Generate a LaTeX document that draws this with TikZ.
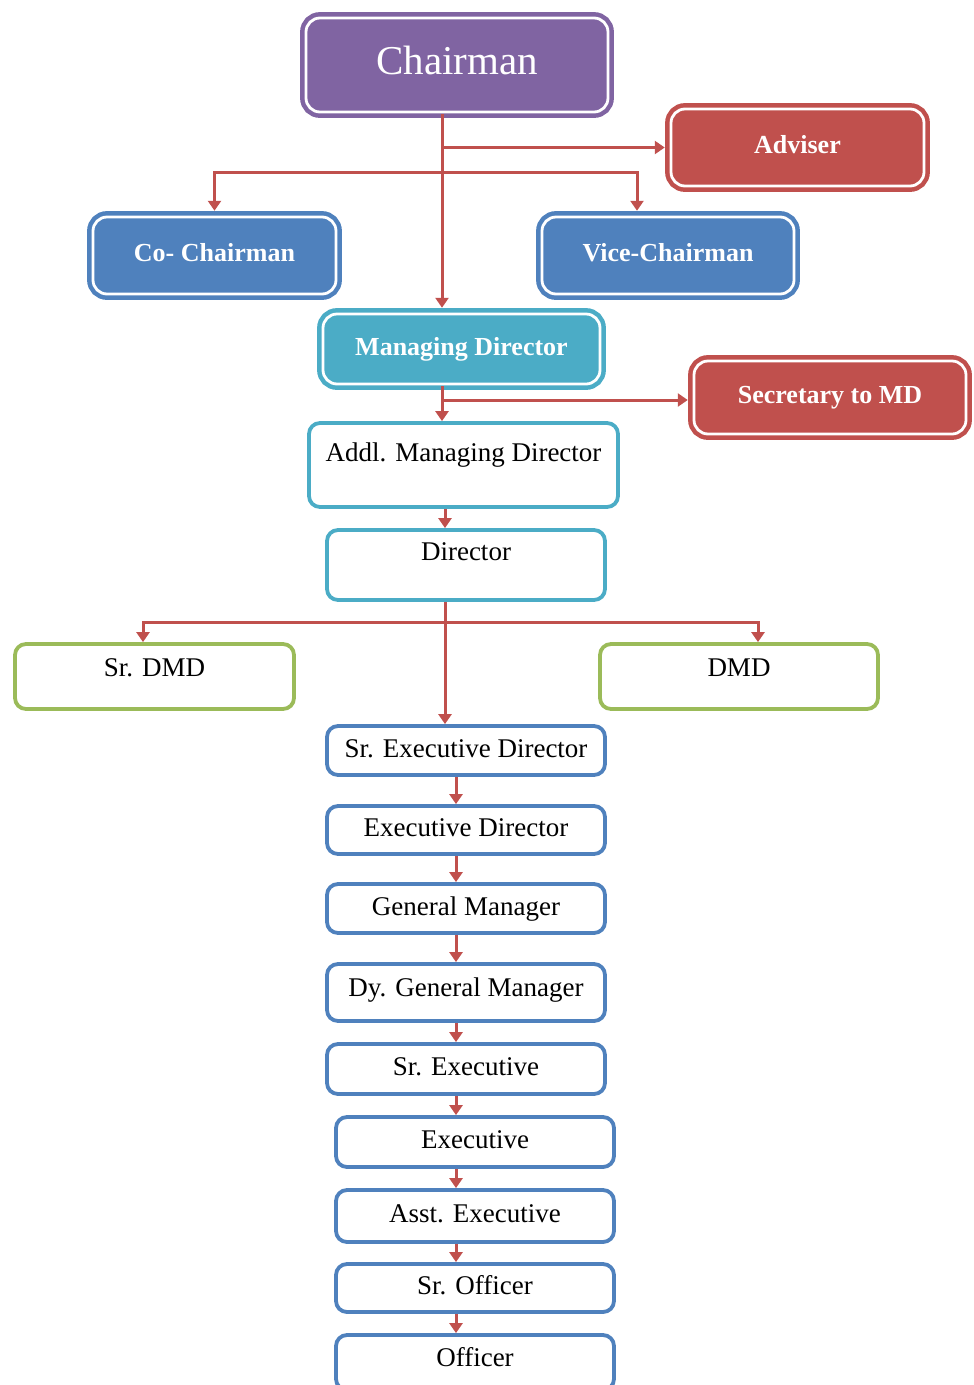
\documentclass[tikz,border=0pt]{standalone}
\usepackage{fontspec}
\setmainfont{Liberation Serif}
\usetikzlibrary{arrows.meta}

\definecolor{cpurple}{HTML}{8064A2}
\definecolor{cred}{HTML}{C0504D}
\definecolor{cblue}{HTML}{4F81BD}
\definecolor{cteal}{HTML}{4BACC6}
\definecolor{cgreen}{HTML}{9BBB59}

\tikzset{
  % filled box with a white inner rim
  solidbox/.style={rectangle, rounded corners=14pt, fill=#1, draw=#1,
    line width=4.5pt, double=white, double distance=2.8pt,
    text=white, font=\fontsize{26}{30}\selectfont\bfseries,
    inner sep=0pt, text height=18pt, text depth=6pt},
  % white box with a coloured outline
  plainbox/.style={rectangle, rounded corners=11pt, fill=white, draw=#1,
    line width=3.8pt, text=black, font=\fontsize{27}{31}\selectfont,
    inner sep=0pt, text height=19pt, text depth=6pt},
  conn/.style={draw=cred, line width=3pt,
    -{Triangle[width=13pt,length=10pt]}},
  toframe/.style={shorten >=4pt},
}

\begin{document}
\begin{tikzpicture}[x=1pt,y=-1pt]
\useasboundingbox (0,0) rectangle (974,1385);
\clip (0,0) rectangle (974,1385);

% top level
\node[solidbox=cpurple, minimum width=302pt, minimum height=94pt,
      font=\fontsize{41}{47}\selectfont, text height=28pt, text depth=9pt]
      (chair) at (457,65) {Chairman};
\node[solidbox=cred, minimum width=253pt, minimum height=77pt]
      (adviser) at (797.5,147.5) {Adviser};
\node[solidbox=cblue, minimum width=243pt, minimum height=77pt]
      (cochair) at (214.5,255.5) {Co- Chairman};
\node[solidbox=cblue, minimum width=252pt, minimum height=77pt]
      (vice) at (668,255.5) {Vice-Chairman};
\node[solidbox=cteal, minimum width=277pt, minimum height=70pt]
      (md) at (461.5,349) {Managing Director};
\node[solidbox=cred, minimum width=272pt, minimum height=73pt]
      (sec) at (830,397.5) {Secretary to MD};

% directors
\node[plainbox=cteal, minimum width=309pt, minimum height=84pt, text depth=26pt]
      (amd) at (463.5,465) {Addl. Managing Director};
\node[plainbox=cteal, minimum width=278pt, minimum height=70pt, text depth=28pt]
      (dir) at (466,565) {Director};
\node[plainbox=cgreen, minimum width=279pt, minimum height=65pt, text depth=19pt]
      (srdmd) at (154.5,676.5) {Sr. DMD};
\node[plainbox=cgreen, minimum width=278pt, minimum height=65pt, text depth=19pt]
      (dmd) at (739,676.5) {DMD};

% management chain
\node[plainbox=cblue, minimum width=278pt, minimum height=49pt]
      (sed) at (466,750.5) {Sr. Executive Director};
\node[plainbox=cblue, minimum width=278pt, minimum height=48pt]
      (ed) at (466,830) {Executive Director};
\node[plainbox=cblue, minimum width=278pt, minimum height=49pt]
      (gm) at (466,908.5) {General Manager};
\node[plainbox=cblue, minimum width=278pt, minimum height=57pt, text depth=12pt]
      (dgm) at (466,992.5) {Dy. General Manager};
\node[plainbox=cblue, minimum width=278pt, minimum height=50pt]
      (sx) at (466,1069) {Sr. Executive};
\node[plainbox=cblue, minimum width=278pt, minimum height=50pt]
      (ex) at (475,1142) {Executive};
\node[plainbox=cblue, minimum width=278pt, minimum height=52pt]
      (ax) at (475,1216) {Asst. Executive};
\node[plainbox=cblue, minimum width=278pt, minimum height=48pt]
      (so) at (475,1288) {Sr. Officer};
\node[plainbox=cblue, minimum width=278pt, minimum height=55pt, text depth=12pt]
      (off) at (475,1362.5) {Officer};

% connector guide points
\coordinate (spine) at (442,0);
\coordinate (spineb) at (445,0);
\coordinate (chain) at (456,0);
\coordinate (fork1) at (442,172);
\coordinate (fork2) at (442,400);
\coordinate (fork3) at (445,622);
\coordinate (vicedrop) at (637,0);
\coordinate (srdmddrop) at (143,0);
\coordinate (dmddrop) at (758,0);

% connectors
\draw[conn, toframe] (chair.south -| spine) -- (md.north -| spine);
\draw[conn, toframe] (spine |- adviser.west) -- (adviser.west);
\draw[conn, toframe] (fork1) -| (cochair.north);
\draw[conn, toframe] (fork1) -| (vicedrop |- vice.north);
\draw[conn] (md.south -| spine) -- (amd.north -| spine);
\draw[conn, toframe] (fork2) -- (fork2 -| sec.west);
\draw[conn] (amd.south -| spineb) -- (dir.north -| spineb);
\draw[conn] (dir.south -| spineb) -- (sed.north -| spineb);
\draw[conn] (fork3) -| (srdmddrop |- srdmd.north);
\draw[conn] (fork3) -| (dmddrop |- dmd.north);

\foreach \a/\b in {sed/ed, ed/gm, gm/dgm, dgm/sx, sx/ex, ex/ax, ax/so, so/off}
  \draw[conn] (\a.south -| chain) -- (\b.north -| chain);
\end{tikzpicture}
\end{document}
